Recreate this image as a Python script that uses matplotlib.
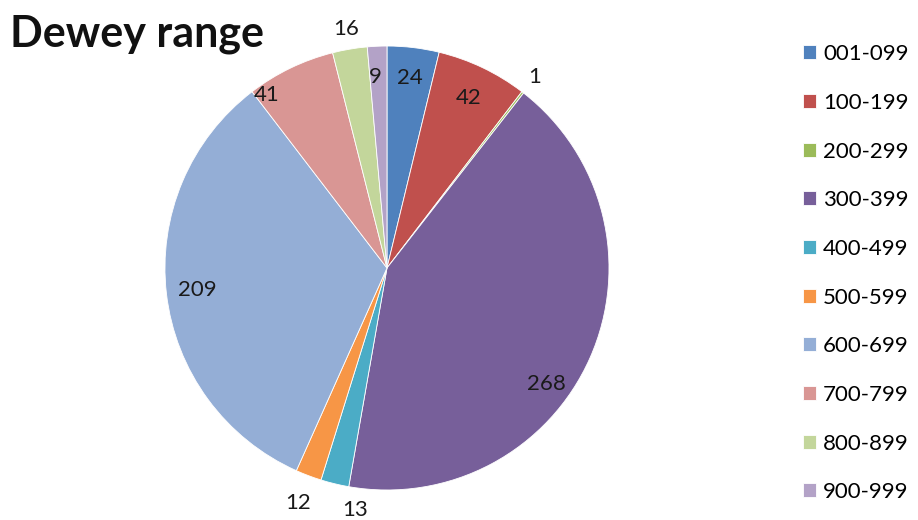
import numpy as np
import matplotlib
matplotlib.use("Agg")
import matplotlib.pyplot as plt

# Dewey ranges and counts
ranges = ['001-099', '100-199', '200-299', '300-399', '400-499',
          '500-599', '600-699', '700-799', '800-899', '900-999']
counts = [24, 42, 1, 268, 13, 12, 209, 41, 16, 9]
colors = ['#4F81BD', '#C0504D', '#9BBB59', '#775F9A', '#4BACC6',
          '#F79646', '#94AED6', '#D99694', '#C3D69B', '#B3A2C7']
# label placement: distance from centre (1.0 = rim) and angle nudge in degrees
label_r = [0.86, 0.85, 1.09, 0.89, 1.10, 1.13, 0.86, 0.95, 1.09, 0.86]
label_nudge = [0, 0, 0, -12, 6, 0, 0, 9, 0, 1]

plt.rcParams['font.family'] = ['Lato', 'DejaVu Sans']

fig = plt.figure(figsize=(9.18, 5.2), dpi=100)
ax = fig.add_axes([0.1797, 0.0577, 0.4837, 0.8538])

wedges, _ = ax.pie(counts, colors=colors, startangle=90, counterclock=False,
                   radius=1.0, wedgeprops=dict(edgecolor='white', linewidth=0.6))
ax.set_xlim(-1, 1)
ax.set_ylim(-1, 1)
ax.set_aspect('auto')
ax.axis('off')

for w, val, r, d in zip(wedges, counts, label_r, label_nudge):
    mid = np.deg2rad((w.theta1 + w.theta2) / 2 + d)
    ax.text(r * np.cos(mid), r * np.sin(mid), str(val), ha='center', va='center',
            fontsize=16, color='#1a1a1a')

fig.text(0.011, 0.935, 'Dewey range', fontsize=31, fontweight='bold',
         ha='left', va='center', color='#111111')

fig.legend(wedges, ranges, loc='upper left', bbox_to_anchor=(0.865, 0.932),
           frameon=False, fontsize=16, handlelength=0.6, handleheight=0.6,
           handletextpad=0.3, labelspacing=1.29, borderaxespad=0)

fig.savefig('out.png', dpi=100)
